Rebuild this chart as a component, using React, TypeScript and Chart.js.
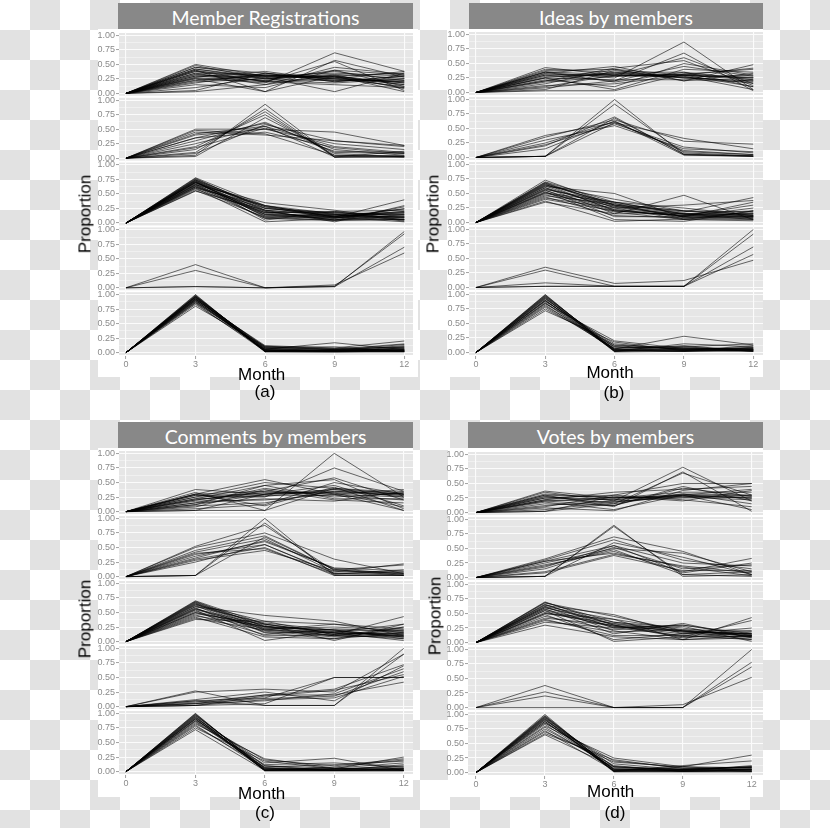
import React, { useEffect, useRef } from "react";
import { Chart, registerables } from "chart.js";

Chart.register(...registerables);

// ---------------- data ----------------
const months = [0, 3, 6, 9, 12];
const xTicks = [0, 3, 6, 9, 12];
const yTicks = [0, 0.25, 0.5, 0.75, 1];
const yMinorTicks = [0.125, 0.375, 0.625, 0.875];
const panelTitles = ["Member Registrations", "Ideas by members", "Comments by members", "Votes by members"];
const panelLabels = ["(a)", "(b)", "(c)", "(d)"];
const xTitle = "Month";
const yTitle = "Proportion";

// (a) Member Registrations
const regF1 = [
  [0, 0.5, 0.3, 0.25, 0.2], [0, 0.48, 0.25, 0.3, 0.15], [0, 0.45, 0.35, 0.2, 0.3], [0, 0.42, 0.28, 0.28, 0.1],
  [0, 0.4, 0.03, 0.3, 0.35], [0, 0.38, 0.2, 0.55, 0.05], [0, 0.35, 0.32, 0.25, 0.2], [0, 0.33, 0.22, 0.4, 0.12],
  [0, 0.3, 0.3, 0.35, 0.3], [0, 0.28, 0.38, 0.22, 0.25], [0, 0.26, 0.18, 0.7, 0.38], [0, 0.25, 0.03, 0.57, 0.28],
  [0, 0.23, 0.3, 0.3, 0.18], [0, 0.2, 0.25, 0.38, 0.22], [0, 0.18, 0.35, 0.2, 0.3], [0, 0.15, 0.1, 0.4, 0.32],
  [0, 0.1, 0.28, 0.03, 0.35], [0, 0.05, 0.35, 0.25, 0.38], [0, 0.03, 0.15, 0.45, 0.33], [0, 0.4, 0.2, 0.15, 0.1],
  [0, 0.35, 0.15, 0.32, 0.08], [0, 0.3, 0.22, 0.18, 0.25], [0, 0.45, 0.3, 0.3, 0.03], [0, 0.22, 0.32, 0.28, 0.15],
  [0, 0.42, 0.25, 0.22, 0.22], [0, 0.38, 0.3, 0.28, 0.18], [0, 0.32, 0.26, 0.33, 0.26], [0, 0.27, 0.2, 0.25, 0.12],
];
const regF2 = [
  [0, 0.5, 0.5, 0.45, 0.22], [0, 0.45, 0.4, 0.3, 0.2], [0, 0.42, 0.55, 0.2, 0.1], [0, 0.4, 0.5, 0.25, 0.15],
  [0, 0.35, 0.6, 0.15, 0.05], [0, 0.3, 0.62, 0.1, 0.08], [0, 0.25, 0.55, 0.02, 0.12], [0, 0.2, 0.75, 0.05, 0.03],
  [0, 0.15, 0.8, 0.02, 0.02], [0, 0.1, 0.85, 0.02, 0.05], [0, 0.05, 0.93, 0.02, 0.02], [0, 0.03, 0.7, 0.08, 0.02],
  [0, 0.18, 0.52, 0.12, 0.1], [0, 0.08, 0.58, 0.3, 0.22], [0, 0.35, 0.45, 0.18, 0.08], [0, 0.48, 0.42, 0.05, 0.03],
];
const regF3 = [
  [0, 0.78, 0.3, 0.1, 0.05], [0, 0.76, 0.25, 0.15, 0.1], [0, 0.75, 0.2, 0.05, 0.15], [0, 0.74, 0.15, 0.1, 0.2],
  [0, 0.73, 0.1, 0.12, 0.08], [0, 0.72, 0.05, 0.2, 0.03], [0, 0.7, 0.28, 0.08, 0.25], [0, 0.7, 0.18, 0.18, 0.12],
  [0, 0.68, 0.22, 0.02, 0.3], [0, 0.67, 0.12, 0.15, 0.18], [0, 0.66, 0.35, 0.22, 0.05], [0, 0.65, 0.08, 0.1, 0.4],
  [0, 0.64, 0.2, 0.05, 0.1], [0, 0.63, 0.15, 0.12, 0.2], [0, 0.62, 0.25, 0.18, 0.15], [0, 0.6, 0.02, 0.08, 0.12],
  [0, 0.6, 0.3, 0.1, 0.02], [0, 0.58, 0.18, 0.2, 0.22], [0, 0.56, 0.1, 0.05, 0.28], [0, 0.55, 0.22, 0.14, 0.1],
  [0, 0.7, 0.14, 0.06, 0.06], [0, 0.72, 0.26, 0.12, 0.16], [0, 0.77, 0.22, 0.12, 0.1], [0, 0.74, 0.28, 0.15, 0.06],
  [0, 0.71, 0.12, 0.09, 0.18], [0, 0.69, 0.3, 0.16, 0.14], [0, 0.66, 0.17, 0.11, 0.24], [0, 0.62, 0.08, 0.04, 0.06],
];
const regF4 = [
  [0, 0.4, 0.0, 0.02, 0.97], [0, 0.3, 0.0, 0.05, 0.6], [0, 0.02, 0.0, 0.03, 0.93], [0, 0.02, 0.0, 0.02, 0.7],
];
const regF5 = [
  [0, 1.0, 0.02, 0.02, 0.02], [0, 0.98, 0.05, 0.03, 0.05], [0, 0.97, 0.03, 0.05, 0.02], [0, 0.96, 0.08, 0.02, 0.1],
  [0, 0.95, 0.02, 0.04, 0.03], [0, 0.94, 0.1, 0.06, 0.15], [0, 0.93, 0.04, 0.02, 0.08], [0, 0.92, 0.06, 0.17, 0.05],
  [0, 0.91, 0.12, 0.08, 0.2], [0, 0.9, 0.03, 0.03, 0.12], [0, 0.88, 0.07, 0.05, 0.06], [0, 0.86, 0.09, 0.1, 0.02],
  [0, 0.85, 0.02, 0.04, 0.14], [0, 0.83, 0.05, 0.02, 0.04], [0, 0.8, 0.11, 0.07, 0.09], [0, 0.95, 0.01, 0.01, 0.01],
  [0, 0.99, 0.02, 0.01, 0.03], [0, 0.9, 0.04, 0.03, 0.07], [0, 0.97, 0.06, 0.04, 0.04], [0, 0.93, 0.02, 0.02, 0.02],
  [0, 0.89, 0.08, 0.06, 0.1], [0, 0.96, 0.03, 0.03, 0.06], [0, 0.87, 0.05, 0.02, 0.03], [0, 0.92, 0.1, 0.05, 0.04],
];

// (b) Ideas by members
const ideaF1 = [
  [0, 0.43, 0.3, 0.3, 0.25], [0, 0.4, 0.35, 0.25, 0.2], [0, 0.38, 0.4, 0.3, 0.1], [0, 0.35, 0.25, 0.87, 0.05],
  [0, 0.33, 0.45, 0.2, 0.48], [0, 0.3, 0.2, 0.68, 0.03], [0, 0.28, 0.3, 0.6, 0.15], [0, 0.25, 0.05, 0.4, 0.35],
  [0, 0.22, 0.1, 0.5, 0.3], [0, 0.2, 0.35, 0.35, 0.1], [0, 0.18, 0.28, 0.3, 0.25], [0, 0.15, 0.4, 0.2, 0.33],
  [0, 0.12, 0.15, 0.3, 0.42], [0, 0.08, 0.2, 0.45, 0.28], [0, 0.05, 0.38, 0.25, 0.2], [0, 0.03, 0.03, 0.32, 0.4],
  [0, 0.3, 0.32, 0.28, 0.05], [0, 0.25, 0.22, 0.22, 0.18], [0, 0.35, 0.18, 0.35, 0.22], [0, 0.2, 0.42, 0.55, 0.12],
  [0, 0.1, 0.3, 0.26, 0.3], [0, 0.32, 0.28, 0.32, 0.26], [0, 0.26, 0.33, 0.3, 0.22], [0, 0.36, 0.3, 0.27, 0.16],
];
const ideaF2 = [
  [0, 0.02, 1.0, 0.05, 0.02], [0, 0.02, 0.92, 0.08, 0.03], [0, 0.38, 0.6, 0.33, 0.15], [0, 0.35, 0.65, 0.28, 0.23],
  [0, 0.3, 0.55, 0.15, 0.1], [0, 0.25, 0.62, 0.1, 0.05], [0, 0.2, 0.7, 0.05, 0.03], [0, 0.22, 0.58, 0.18, 0.08],
  [0, 0.02, 0.68, 0.06, 0.02], [0, 0.02, 0.6, 0.12, 0.05], [0, 0.15, 0.63, 0.04, 0.02],
];
const ideaF3 = [
  [0, 0.73, 0.3, 0.1, 0.1], [0, 0.7, 0.35, 0.15, 0.05], [0, 0.68, 0.25, 0.05, 0.2], [0, 0.66, 0.2, 0.12, 0.3],
  [0, 0.64, 0.4, 0.2, 0.1], [0, 0.62, 0.5, 0.08, 0.15], [0, 0.6, 0.15, 0.47, 0.05], [0, 0.58, 0.3, 0.18, 0.43],
  [0, 0.56, 0.1, 0.1, 0.35], [0, 0.55, 0.22, 0.15, 0.08], [0, 0.53, 0.05, 0.02, 0.2], [0, 0.51, 0.35, 0.25, 0.12],
  [0, 0.5, 0.28, 0.1, 0.25], [0, 0.48, 0.18, 0.05, 0.03], [0, 0.46, 0.32, 0.2, 0.18], [0, 0.44, 0.12, 0.08, 0.1],
  [0, 0.42, 0.25, 0.3, 0.38], [0, 0.4, 0.2, 0.12, 0.15], [0, 0.37, 0.02, 0.06, 0.05], [0, 0.35, 0.15, 0.15, 0.2],
  [0, 0.6, 0.26, 0.14, 0.12], [0, 0.65, 0.33, 0.06, 0.08], [0, 0.69, 0.28, 0.16, 0.12], [0, 0.63, 0.22, 0.1, 0.07],
  [0, 0.57, 0.35, 0.14, 0.16], [0, 0.52, 0.2, 0.12, 0.1], [0, 0.67, 0.3, 0.2, 0.14],
];
const ideaF4 = [
  [0, 0.35, 0.07, 0.12, 0.47], [0, 0.3, 0.02, 0.02, 1.0], [0, 0.08, 0.02, 0.02, 0.92], [0, 0.02, 0.02, 0.02, 0.7],
  [0, 0.02, 0.02, 0.02, 0.57],
];
const ideaF5 = [
  [0, 1.0, 0.02, 0.05, 0.03], [0, 0.98, 0.05, 0.02, 0.08], [0, 0.96, 0.08, 0.1, 0.02], [0, 0.94, 0.03, 0.03, 0.12],
  [0, 0.92, 0.12, 0.08, 0.05], [0, 0.9, 0.02, 0.15, 0.1], [0, 0.88, 0.15, 0.05, 0.03], [0, 0.86, 0.06, 0.28, 0.13],
  [0, 0.84, 0.2, 0.07, 0.06], [0, 0.82, 0.04, 0.12, 0.02], [0, 0.8, 0.1, 0.04, 0.09], [0, 0.78, 0.07, 0.1, 0.15],
  [0, 0.75, 0.13, 0.06, 0.04], [0, 0.72, 0.18, 0.03, 0.07], [0, 0.95, 0.01, 0.02, 0.02], [0, 0.9, 0.05, 0.06, 0.05],
  [0, 0.99, 0.03, 0.03, 0.04], [0, 0.93, 0.06, 0.04, 0.03], [0, 0.89, 0.1, 0.06, 0.08], [0, 0.85, 0.04, 0.02, 0.05],
  [0, 0.97, 0.02, 0.08, 0.06],
];

// (c) Comments by members
const comF1 = [
  [0, 0.38, 0.3, 0.35, 0.3], [0, 0.33, 0.02, 1.0, 0.25], [0, 0.3, 0.55, 0.3, 0.02], [0, 0.28, 0.25, 0.75, 0.35],
  [0, 0.25, 0.5, 0.4, 0.3], [0, 0.22, 0.45, 0.55, 0.05], [0, 0.2, 0.35, 0.58, 0.2], [0, 0.18, 0.2, 0.3, 0.38],
  [0, 0.15, 0.4, 0.25, 0.32], [0, 0.12, 0.3, 0.45, 0.1], [0, 0.1, 0.15, 0.35, 0.28], [0, 0.08, 0.38, 0.2, 0.15],
  [0, 0.05, 0.12, 0.5, 0.3], [0, 0.02, 0.3, 0.38, 0.25], [0, 0.02, 0.02, 0.4, 0.33], [0, 0.25, 0.28, 0.28, 0.2],
  [0, 0.3, 0.1, 0.42, 0.02], [0, 0.15, 0.22, 0.18, 0.35], [0, 0.2, 0.33, 0.32, 0.08], [0, 0.12, 0.45, 0.22, 0.22],
  [0, 0.28, 0.3, 0.33, 0.28], [0, 0.22, 0.26, 0.38, 0.3], [0, 0.3, 0.35, 0.3, 0.25],
];
const comF2 = [
  [0, 0.02, 1.0, 0.02, 0.02], [0, 0.02, 0.92, 0.05, 0.05], [0, 0.52, 0.88, 0.1, 0.08], [0, 0.5, 0.75, 0.3, 0.05],
  [0, 0.45, 0.7, 0.12, 0.2], [0, 0.42, 0.65, 0.08, 0.22], [0, 0.38, 0.55, 0.05, 0.03], [0, 0.35, 0.6, 0.15, 0.1],
  [0, 0.3, 0.5, 0.02, 0.02], [0, 0.28, 0.45, 0.1, 0.06], [0, 0.25, 0.55, 0.06, 0.08], [0, 0.02, 0.68, 0.12, 0.02],
  [0, 0.4, 0.48, 0.04, 0.12], [0, 0.32, 0.62, 0.14, 0.04],
];
const comF3 = [
  [0, 0.7, 0.3, 0.15, 0.1], [0, 0.68, 0.25, 0.2, 0.05], [0, 0.66, 0.2, 0.1, 0.2], [0, 0.64, 0.35, 0.3, 0.15],
  [0, 0.62, 0.15, 0.05, 0.25], [0, 0.6, 0.45, 0.35, 0.1], [0, 0.58, 0.1, 0.12, 0.43], [0, 0.56, 0.28, 0.02, 0.3],
  [0, 0.54, 0.02, 0.18, 0.08], [0, 0.52, 0.22, 0.25, 0.2], [0, 0.5, 0.18, 0.08, 0.12], [0, 0.48, 0.3, 0.15, 0.02],
  [0, 0.46, 0.12, 0.22, 0.18], [0, 0.44, 0.26, 0.1, 0.25], [0, 0.42, 0.08, 0.05, 0.15], [0, 0.4, 0.2, 0.3, 0.22],
  [0, 0.38, 0.35, 0.12, 0.05], [0, 0.55, 0.24, 0.14, 0.14], [0, 0.6, 0.32, 0.2, 0.08], [0, 0.65, 0.16, 0.16, 0.3],
  [0, 0.69, 0.26, 0.18, 0.12], [0, 0.63, 0.3, 0.12, 0.16], [0, 0.57, 0.2, 0.16, 0.1], [0, 0.5, 0.26, 0.2, 0.18],
  [0, 0.67, 0.22, 0.1, 0.08],
];
const comF4 = [
  [0, 0.27, 0.02, 0.02, 1.0], [0, 0.25, 0.3, 0.25, 0.9], [0, 0.1, 0.15, 0.5, 0.5], [0, 0.08, 0.2, 0.3, 0.72],
  [0, 0.05, 0.1, 0.22, 0.65], [0, 0.02, 0.18, 0.28, 0.55], [0, 0.1, 0.02, 0.02, 0.9], [0, 0.02, 0.12, 0.15, 0.52],
  [0, 0.05, 0.2, 0.2, 0.42], [0, 0.12, 0.25, 0.1, 0.7], [0, 0.02, 0.05, 0.5, 0.5], [0, 0.06, 0.14, 0.18, 0.6],
];
const comF5 = [
  [0, 1.0, 0.02, 0.02, 0.02], [0, 0.98, 0.05, 0.05, 0.25], [0, 0.96, 0.1, 0.02, 0.05], [0, 0.94, 0.02, 0.08, 0.2],
  [0, 0.92, 0.15, 0.23, 0.02], [0, 0.9, 0.03, 0.04, 0.1], [0, 0.88, 0.2, 0.1, 0.22], [0, 0.86, 0.06, 0.02, 0.03],
  [0, 0.84, 0.12, 0.15, 0.08], [0, 0.82, 0.22, 0.06, 0.15], [0, 0.8, 0.04, 0.03, 0.02], [0, 0.78, 0.08, 0.12, 0.18],
  [0, 0.75, 0.18, 0.05, 0.05], [0, 0.72, 0.02, 0.02, 0.12], [0, 0.95, 0.01, 0.01, 0.01], [0, 0.9, 0.07, 0.04, 0.06],
  [0, 0.99, 0.03, 0.03, 0.03], [0, 0.97, 0.06, 0.02, 0.04], [0, 0.93, 0.04, 0.05, 0.08], [0, 0.87, 0.1, 0.06, 0.02],
  [0, 0.91, 0.02, 0.02, 0.05],
];

// (d) Votes by members
const voteF1 = [
  [0, 0.37, 0.25, 0.3, 0.25], [0, 0.35, 0.2, 0.78, 0.2], [0, 0.3, 0.1, 0.7, 0.02], [0, 0.28, 0.15, 0.68, 0.3],
  [0, 0.25, 0.3, 0.5, 0.5], [0, 0.22, 0.35, 0.4, 0.45], [0, 0.2, 0.25, 0.35, 0.35], [0, 0.18, 0.05, 0.3, 0.4],
  [0, 0.15, 0.12, 0.45, 0.2], [0, 0.12, 0.2, 0.25, 0.3], [0, 0.1, 0.3, 0.22, 0.1], [0, 0.08, 0.03, 0.38, 0.5],
  [0, 0.05, 0.18, 0.28, 0.25], [0, 0.02, 0.15, 0.32, 0.15], [0, 0.02, 0.28, 0.2, 0.38], [0, 0.25, 0.22, 0.3, 0.05],
  [0, 0.2, 0.12, 0.42, 0.28], [0, 0.3, 0.26, 0.26, 0.22], [0, 0.27, 0.22, 0.32, 0.3], [0, 0.22, 0.18, 0.3, 0.28],
  [0, 0.32, 0.25, 0.28, 0.25],
];
const voteF2 = [
  [0, 0.02, 0.9, 0.02, 0.05], [0, 0.02, 0.88, 0.05, 0.1], [0, 0.32, 0.7, 0.45, 0.05], [0, 0.3, 0.65, 0.3, 0.15],
  [0, 0.28, 0.55, 0.25, 0.2], [0, 0.25, 0.5, 0.42, 0.1], [0, 0.22, 0.45, 0.1, 0.33], [0, 0.2, 0.48, 0.05, 0.02],
  [0, 0.15, 0.52, 0.15, 0.22], [0, 0.1, 0.4, 0.2, 0.08], [0, 0.08, 0.38, 0.12, 0.12], [0, 0.02, 0.6, 0.35, 0.05],
  [0, 0.18, 0.55, 0.08, 0.25], [0, 0.28, 0.42, 0.18, 0.03],
];
const voteF3 = [
  [0, 0.7, 0.3, 0.1, 0.1], [0, 0.68, 0.45, 0.2, 0.05], [0, 0.66, 0.25, 0.3, 0.15], [0, 0.64, 0.48, 0.15, 0.2],
  [0, 0.62, 0.2, 0.05, 0.43], [0, 0.6, 0.35, 0.25, 0.1], [0, 0.58, 0.15, 0.33, 0.08], [0, 0.55, 0.02, 0.1, 0.38],
  [0, 0.52, 0.28, 0.2, 0.15], [0, 0.5, 0.4, 0.05, 0.12], [0, 0.48, 0.05, 0.15, 0.25], [0, 0.45, 0.22, 0.28, 0.02],
  [0, 0.42, 0.3, 0.08, 0.18], [0, 0.4, 0.12, 0.12, 0.05], [0, 0.38, 0.18, 0.22, 0.2], [0, 0.35, 0.25, 0.3, 0.12],
  [0, 0.3, 0.1, 0.05, 0.08], [0, 0.6, 0.32, 0.18, 0.14], [0, 0.55, 0.26, 0.12, 0.1], [0, 0.69, 0.35, 0.2, 0.12],
  [0, 0.65, 0.3, 0.18, 0.15], [0, 0.62, 0.4, 0.22, 0.1], [0, 0.57, 0.28, 0.15, 0.12], [0, 0.5, 0.33, 0.2, 0.15],
];
const voteF4 = [
  [0, 0.38, 0.0, 0.05, 0.52], [0, 0.27, 0.0, 0.0, 0.7], [0, 0.2, 0.0, 0.0, 0.78], [0, 0.0, 0.0, 0.0, 1.0],
];
const voteF5 = [
  [0, 1.0, 0.02, 0.02, 0.02], [0, 0.97, 0.05, 0.05, 0.1], [0, 0.95, 0.1, 0.02, 0.05], [0, 0.93, 0.02, 0.1, 0.3],
  [0, 0.9, 0.15, 0.05, 0.02], [0, 0.88, 0.03, 0.12, 0.2], [0, 0.85, 0.2, 0.08, 0.08], [0, 0.83, 0.06, 0.03, 0.12],
  [0, 0.8, 0.25, 0.1, 0.04], [0, 0.78, 0.08, 0.06, 0.1], [0, 0.75, 0.12, 0.02, 0.03], [0, 0.72, 0.04, 0.04, 0.06],
  [0, 0.7, 0.18, 0.1, 0.08], [0, 0.67, 0.22, 0.07, 0.02], [0, 0.65, 0.1, 0.05, 0.1], [0, 0.92, 0.01, 0.01, 0.01],
  [0, 0.88, 0.06, 0.04, 0.05], [0, 0.98, 0.04, 0.03, 0.06], [0, 0.94, 0.06, 0.06, 0.08], [0, 0.91, 0.03, 0.04, 0.05],
  [0, 0.86, 0.1, 0.05, 0.09], [0, 0.96, 0.02, 0.02, 0.04],
];

const regFacets = [regF1, regF2, regF3, regF4, regF5];
const ideaFacets = [ideaF1, ideaF2, ideaF3, ideaF4, ideaF5];
const comFacets = [comF1, comF2, comF3, comF4, comF5];
const voteFacets = [voteF1, voteF2, voteF3, voteF4, voteF5];
const panelData = [regFacets, ideaFacets, comFacets, voteFacets];

// ---------------- layout / style ----------------
const PANEL_BG = "#e6e6e6";
const GRID = "#fbfbfb";
const TICK_COLOR = "#8a8a8a";
const LINE = "rgba(0,0,0,0.58)";
const STRIP_BG = "#888888";
const CHECKER = "#e2e2e2";
const WY = 40;
const PT = 8;
const PR = 6;
const HX = 16;
const TICK_FONT = { family: "'Liberation Sans', Arial, sans-serif", size: 9 };
const TITLE_FONT = "'Liberation Sans', Arial, sans-serif";
const STRIP_FONT = "Lato, 'Open Sans', sans-serif";

const LAYOUT = [
  { ax: 119, ay: 32, aw: 294, ah: 324, xmin: -0.3, xmax: 12.375, unit: 58,
    strip: [118, 3, 295, 26], bg: [98, 29, 320, 348], yt: [85, 213.5], mt: [261.7, 373.7], lt: [265, 391.3] },
  { ax: 469, ay: 31, aw: 294, ah: 325, xmin: -0.3, xmax: 12.42, unit: 58,
    strip: [469, 3, 294, 26], bg: [447, 29, 316, 348], yt: [433, 214], mt: [610, 372], lt: [614, 391.8] },
  { ax: 119, ay: 450, aw: 294, ah: 325, xmin: -0.3, xmax: 12.4, unit: 58.3,
    strip: [118, 422, 295, 26], bg: [98, 448, 315, 349], yt: [85, 619], mt: [261.7, 793.3], lt: [265, 811.8] },
  { ax: 468, ay: 451, aw: 295, ah: 325, xmin: -0.35, xmax: 12.49, unit: 58.1,
    strip: [468, 422, 295, 26], bg: [448, 448, 315, 349], yt: [434.5, 616], mt: [610.7, 791.2], lt: [615, 812.3] },
];

const facetBgPlugin = {
  id: "facetBg",
  beforeDraw(chart: any) {
    const { ctx, chartArea } = chart;
    ctx.save();
    ctx.fillStyle = PANEL_BG;
    for (let f = 0; f < 5; f++) {
      const s = chart.scales["y" + f];
      if (!s) continue;
      ctx.fillRect(chartArea.left, s.top + 1, chartArea.right - chartArea.left, s.bottom - s.top - 2);
    }
    ctx.restore();
  },
};

function FacetChart({ idx }: { idx: number }) {
  const ref = useRef<HTMLCanvasElement>(null);
  const p = LAYOUT[idx];
  const W = WY + p.aw + PR;
  const H = PT + p.ah + HX;

  useEffect(() => {
    const canvas = ref.current;
    if (!canvas) return;
    const facets = panelData[idx];
    const spacing = p.ah / 5;
    const pad = (spacing - p.unit) / 2 / p.unit;
    const allY = yTicks.concat(yMinorTicks).sort((a, b) => a - b);

    const scales: any = {
      x: {
        type: "linear",
        position: "bottom",
        min: p.xmin,
        max: p.xmax,
        afterBuildTicks: (s: any) => {
          s.ticks = xTicks.map((v) => ({ value: v }));
        },
        afterFit: (s: any) => {
          s.height = HX;
          s.paddingLeft = 0;
          s.paddingRight = 0;
        },
        ticks: {
          autoSkip: false,
          maxRotation: 0,
          padding: 0,
          color: TICK_COLOR,
          font: TICK_FONT,
          callback: (v: any) => String(v),
        },
        grid: { color: GRID, lineWidth: 1.1, drawTicks: true, tickLength: 3, tickColor: TICK_COLOR, tickWidth: 0.8 },
        border: { display: false },
      },
    };
    for (let f = 4; f >= 0; f--) {
      scales["y" + f] = {
        type: "linear",
        position: "left",
        stack: "facets",
        stackWeight: 1,
        min: -pad,
        max: 1 + pad,
        afterBuildTicks: (s: any) => {
          s.ticks = allY.map((v) => ({ value: v }));
        },
        afterFit: (s: any) => {
          s.width = WY;
          s.paddingTop = 0;
          s.paddingBottom = 0;
        },
        ticks: {
          autoSkip: false,
          padding: 1,
          color: TICK_COLOR,
          font: TICK_FONT,
          callback: (v: any) => (yTicks.includes(v) ? Number(v).toFixed(2) : ""),
        },
        grid: {
          color: GRID,
          lineWidth: (c: any) => (c.tick && yTicks.includes(c.tick.value) ? 1.1 : 0.5),
          drawTicks: true,
          tickLength: 3,
          tickWidth: 0.8,
          tickColor: (c: any) => (c.tick && yTicks.includes(c.tick.value) ? TICK_COLOR : "rgba(0,0,0,0)"),
        },
        border: { display: false },
      };
    }

    const datasets: any[] = [];
    facets.forEach((lines, f) => {
      lines.forEach((vals) => {
        datasets.push({
          data: vals.map((v, i) => ({ x: months[i], y: v })),
          xAxisID: "x",
          yAxisID: "y" + f,
          borderColor: LINE,
          borderWidth: 1,
          borderJoinStyle: "round",
          pointRadius: 0,
          fill: false,
          tension: 0,
        });
      });
    });

    const chart = new Chart(canvas, {
      type: "line",
      data: { datasets },
      options: {
        responsive: false,
        animation: false,
        events: [],
        layout: { padding: { left: 0, top: PT, right: PR, bottom: 0 } },
        plugins: { legend: { display: false }, tooltip: { enabled: false }, title: { display: false } },
        scales,
      } as any,
      plugins: [facetBgPlugin],
    });
    return () => chart.destroy();
  }, [idx]);

  return (
    <canvas
      ref={ref}
      width={W}
      height={H}
      style={{ position: "absolute", left: p.ax - WY, top: p.ay - PT, width: W, height: H }}
    />
  );
}

function Panel({ idx }: { idx: number }) {
  const p = LAYOUT[idx];
  const [sx, sy, sw, sh] = p.strip;
  const [bx, by, bw, bh] = p.bg;
  return (
    <>
      <div style={{ position: "absolute", left: bx, top: by, width: bw, height: bh, background: "#ffffff" }} />
      <div
        style={{
          position: "absolute", left: sx, top: sy, width: sw, height: sh, background: STRIP_BG,
          color: "#ffffff", textAlign: "center", lineHeight: "30px", fontSize: 19.5, fontFamily: STRIP_FONT,
          whiteSpace: "nowrap",
        }}
      >
        {panelTitles[idx]}
      </div>
      <FacetChart idx={idx} />
      <div
        style={{
          position: "absolute", left: p.yt[0], top: p.yt[1], transform: "translate(-50%, -50%) rotate(-90deg)",
          fontFamily: TITLE_FONT, fontSize: 17, lineHeight: "17px", color: "#000", whiteSpace: "nowrap",
        }}
      >
        {yTitle}
      </div>
      <div
        style={{
          position: "absolute", left: p.mt[0], top: p.mt[1], transform: "translate(-50%, -50%)",
          fontFamily: TITLE_FONT, fontSize: 17, lineHeight: "17px", color: "#000", whiteSpace: "nowrap",
        }}
      >
        {xTitle}
      </div>
      <div
        style={{
          position: "absolute", left: p.lt[0], top: p.lt[1], transform: "translate(-50%, -50%)",
          fontFamily: TITLE_FONT, fontSize: 17, lineHeight: "17px", color: "#000", whiteSpace: "nowrap",
        }}
      >
        {panelLabels[idx]}
      </div>
    </>
  );
}

export default function App() {
  return (
    <div
      style={{
        position: "absolute", left: 0, top: 0, width: 830, height: 828, overflow: "hidden",
        backgroundColor: "#ffffff",
        backgroundImage: `repeating-conic-gradient(${CHECKER} 0% 25%, #ffffff 0% 50%)`,
        backgroundSize: "60px 60px",
        backgroundPosition: "0 0",
      }}
    >
      {[0, 1, 2, 3].map((i) => (
        <Panel key={i} idx={i} />
      ))}
    </div>
  );
}
